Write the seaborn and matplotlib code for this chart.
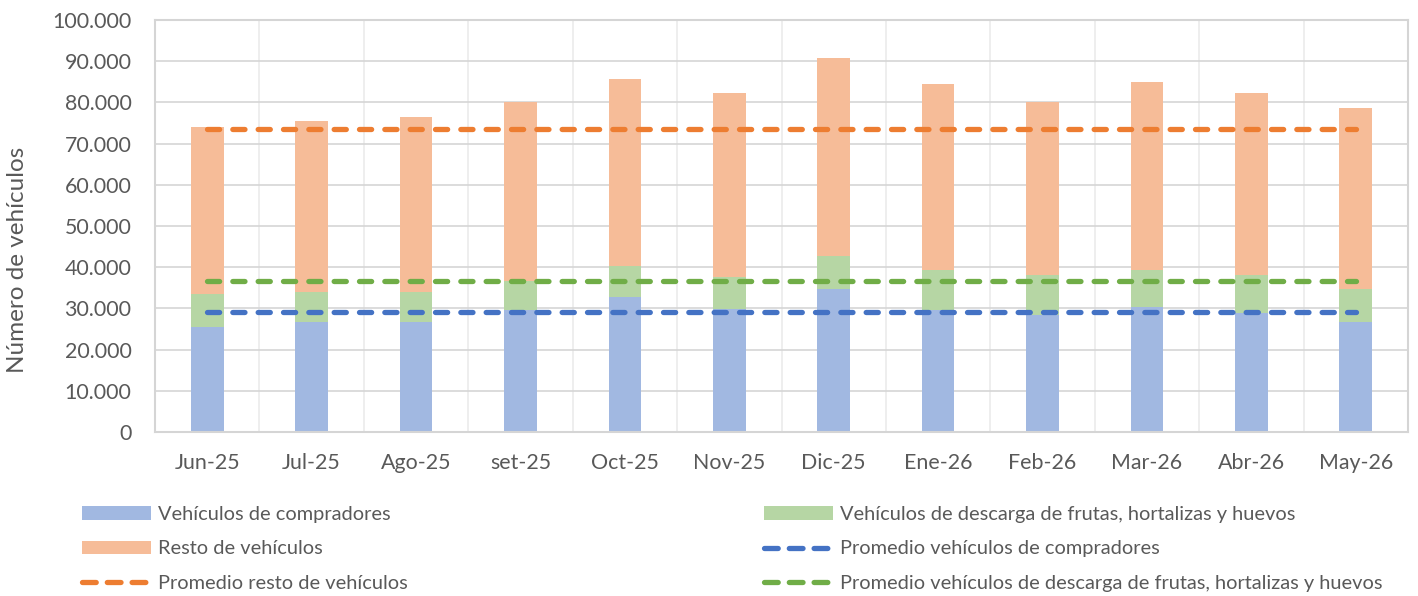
import numpy as np
import pandas as pd
import matplotlib
matplotlib.use("Agg")
import matplotlib.pyplot as plt
import seaborn as sns
from matplotlib.lines import Line2D
from matplotlib.patches import Patch
from matplotlib.ticker import FuncFormatter

# data
meses = ["Jun-25", "Jul-25", "Ago-25", "set-25", "Oct-25", "Nov-25",
         "Dic-25", "Ene-26", "Feb-26", "Mar-26", "Abr-26", "May-26"]
compradores = [25500, 26700, 26700, 29600, 32700, 29800,
               34600, 29600, 28400, 30400, 29000, 26800]
descarga = [8100, 7200, 7400, 7100, 7600, 7900,
            8000, 9700, 9600, 8900, 9000, 8000]
resto = [40400, 41600, 42400, 43400, 45400, 44600,
         48200, 45200, 42100, 45700, 44300, 43800]
# average lines as drawn on the chart
prom_compradores = 29100
prom_descarga = 36700
prom_resto = 73500

c_blue_bar = "#A1B8E1"
c_green_bar = "#B6D6A4"
c_orange_bar = "#F6BC98"
c_blue = "#4472C4"
c_green = "#70AD47"
c_orange = "#ED7D31"
txt = "#595959"

sns.set_style("white")
plt.rcParams["font.family"] = ["Lato", "DejaVu Sans"]

df = pd.DataFrame({"mes": meses, "compradores": compradores,
                   "descarga": descarga, "resto": resto})
df["nivel2"] = df["compradores"] + df["descarga"]
df["total"] = df["nivel2"] + df["resto"]

fig = plt.figure(figsize=(14.18, 5.96), dpi=100)
ax = fig.add_axes([155 / 1418, 1 - 432 / 596, 1253 / 1418, 412 / 596])

# stacked bars drawn as overlapping cumulative totals
bw = 0.313
for col, c in [("total", c_orange_bar), ("nivel2", c_green_bar),
               ("compradores", c_blue_bar)]:
    sns.barplot(data=df, x="mes", y=col, color=c, width=bw, saturation=1,
                linewidth=0, edgecolor="none", ax=ax, zorder=2)

for val, col in [(prom_compradores, c_blue), (prom_descarga, c_green),
                 (prom_resto, c_orange)]:
    ln, = ax.plot(meses, [val] * len(meses), color=col, zorder=3)
    ln.set_linewidth(3.8)
    ln.set_dashes((2.3, 2.5))
    ln.set_dash_capstyle("round")

ax.set_xlim(-0.5, len(meses) - 0.5)
ax.set_ylim(0, 100000)
ax.set_yticks(np.arange(0, 100001, 10000))
ax.yaxis.set_major_formatter(FuncFormatter(lambda v, p: f"{int(v):,}".replace(",", ".")))
ax.set_xticks(np.arange(len(meses)) + 0.5, minor=True)
ax.grid(axis="y", which="major", color="#D5D5D5", linewidth=1.2, zorder=0)
ax.grid(axis="x", which="minor", color="#EBEBEB", linewidth=1.2, zorder=0)
ax.grid(axis="x", which="major", visible=False)
ax.set_axisbelow(True)
for s in ax.spines.values():
    s.set_color("#D5D5D5")
    s.set_linewidth(1.5)
ax.tick_params(axis="both", which="both", length=0, labelsize=15.4, colors=txt)
ax.tick_params(axis="x", pad=15)
ax.tick_params(axis="y", pad=17)
ax.set_xlabel("")
ax.set_ylabel("Número de vehículos", fontsize=17.5, color=txt)
ax.yaxis.set_label_coords(-0.101, 0.417)

h_blue = Patch(facecolor=c_blue_bar, edgecolor="none")
h_green = Patch(facecolor=c_green_bar, edgecolor="none")
h_orange = Patch(facecolor=c_orange_bar, edgecolor="none")


def dash_handle(col):
    h = Line2D([], [], color=col, linewidth=3.8)
    h.set_dashes((2.6, 2.1))
    h.set_dash_capstyle("round")
    return h


leg_kw = dict(frameon=False, fontsize=14.4, labelcolor=txt, handlelength=3.45,
              handleheight=0.65, handletextpad=0.35, labelspacing=0.87,
              borderpad=0, borderaxespad=0, loc="upper left")
leg1 = fig.legend([h_blue, h_orange, dash_handle(c_orange)],
                  ["Vehículos de compradores", "Resto de vehículos",
                   "Promedio resto de vehículos"],
                  bbox_to_anchor=(82 / 1418, 1 - 506 / 596), **leg_kw)
leg2 = fig.legend([h_green, dash_handle(c_blue), dash_handle(c_green)],
                  ["Vehículos de descarga de frutas, hortalizas y huevos",
                   "Promedio vehículos de compradores",
                   "Promedio vehículos de descarga de frutas, hortalizas y huevos"],
                  bbox_to_anchor=(764 / 1418, 1 - 506 / 596), **leg_kw)

fig.savefig("out.png", dpi=100, facecolor="white")
